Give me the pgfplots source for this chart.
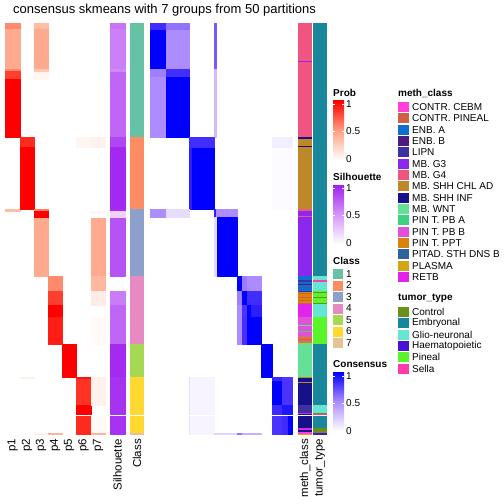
\documentclass[border=0pt]{standalone}
\usepackage{pgfplots}
\pgfplotsset{compat=1.18}
\usepackage{fontspec}
\setmainfont{Liberation Sans}

% class colours
\definecolor{cA}{HTML}{66C2A5}
\definecolor{cB}{HTML}{FC8D62}
\definecolor{cC}{HTML}{8DA0CB}
\definecolor{cD}{HTML}{E78AC3}
\definecolor{cE}{HTML}{A6D854}
\definecolor{cF}{HTML}{FFD92F}
\definecolor{cG}{HTML}{E5C494}
% meth_class colours
\definecolor{mCEBM}{RGB}{255,64,220}
\definecolor{mPIN}{RGB}{210,95,65}
\definecolor{mENBA}{RGB}{15,110,210}
\definecolor{mENBB}{RGB}{80,25,130}
\definecolor{mLIPN}{RGB}{60,50,160}
\definecolor{mGiii}{RGB}{140,40,238}
\definecolor{mGiv}{RGB}{240,85,130}
\definecolor{mCHL}{RGB}{190,135,40}
\definecolor{mINF}{RGB}{22,16,138}
\definecolor{mWNT}{RGB}{100,225,150}
\definecolor{mPBA}{RGB}{60,210,130}
\definecolor{mPBB}{RGB}{225,80,215}
\definecolor{mPPT}{RGB}{220,130,10}
\definecolor{mPITAD}{RGB}{44,100,160}
\definecolor{mPLAS}{RGB}{210,165,20}
\definecolor{mRETB}{RGB}{225,35,235}
% tumor_type colours
\definecolor{tCon}{RGB}{105,145,25}
\definecolor{tEmb}{RGB}{25,135,155}
\definecolor{tGlio}{RGB}{100,230,210}
\definecolor{tHae}{RGB}{70,20,210}
\definecolor{tPin}{RGB}{90,245,40}
\definecolor{tSel}{RGB}{255,60,170}
% colorbar mid colours
\definecolor{probmid}{RGB}{255,160,130}
\definecolor{silmid}{RGB}{213,150,249}
\definecolor{silhi}{RGB}{160,32,240}
\definecolor{conmid}{RGB}{172,140,255}

\pgfplotsset{
  colormap={probcm}{rgb255(0cm)=(255,255,255) rgb255(1cm)=(255,208,190) rgb255(2cm)=(255,160,130) rgb255(3cm)=(255,105,75) rgb255(4cm)=(255,0,0)},
  colormap={silcm}{rgb255(0cm)=(255,255,255) rgb255(1cm)=(236,204,252) rgb255(2cm)=(213,150,249) rgb255(3cm)=(188,95,245) rgb255(4cm)=(160,32,240)},
  colormap={concm}{rgb255(0cm)=(255,255,255) rgb255(1cm)=(215,200,255) rgb255(2cm)=(172,140,255) rgb255(3cm)=(110,75,255) rgb255(4cm)=(0,0,255)},
  canvas/.style={width=504bp, height=504bp, scale only axis,
    xmin=0, xmax=504, ymin=0, ymax=504, y dir=reverse,
    hide axis, clip=false, point meta min=0, point meta max=1},
}

% value block: x0 x1 y0 y1 value
\newcommand\pb[5]{\addplot[patch, patch type=rectangle, shader=flat, draw=none, point meta=explicit] coordinates {(#1,#3) [#5] (#2,#3) [#5] (#2,#4) [#5] (#1,#4) [#5]};}
% categorical block: x0 x1 y0 y1 colour
\newcommand\cb[5]{\addplot[draw=none, fill=#5] coordinates {(#1,#3) (#2,#3) (#2,#4) (#1,#4)} -- cycle;}

\newcommand\lf{\fontsize{10bp}{12bp}\selectfont}
\newcommand\lt{\fontsize{10bp}{12bp}\selectfont\bfseries}
\newcommand\bl{\fontsize{11.5bp}{13bp}\selectfont}

\begin{document}
\begin{tikzpicture}
% ---------------- Prob columns p1..p7 ----------------
\begin{axis}[canvas, colormap name=probcm]
\pb{5}{20}{23}{29}{0.6}
\pb{5}{20}{29}{69}{0.45}
\pb{5}{20}{69}{71}{0.6}
\pb{5}{20}{71}{79}{0.85}
\pb{5}{20}{79}{137}{1}
\pb{5}{20}{209}{211}{0.35}
\pb{20}{34}{137}{147}{0.9}
\pb{20}{34}{147}{209}{1}
\pb{20}{34}{377}{378}{0.08}
\pb{34}{48}{23}{29}{0.35}
\pb{34}{48}{29}{69}{0.45}
\pb{34}{48}{69}{72}{0.3}
\pb{34}{48}{72}{79}{0.05}
\pb{34}{48}{209}{211}{0.65}
\pb{34}{48}{211}{218}{1}
\pb{34}{48}{218}{276}{0.45}
\pb{34}{48}{433}{434.5}{0.08}
\pb{48}{62}{276}{291}{0.6}
\pb{48}{62}{291}{305}{0.85}
\pb{48}{62}{305}{317}{1}
\pb{48}{62}{317}{344}{0.93}
\pb{48}{62}{433}{434.5}{0.4}
\pb{62}{76}{344}{377}{1}
\pb{76}{91}{137}{147}{0.05}
\pb{76}{91}{377}{379}{0.95}
\pb{76}{91}{379}{405}{0.88}
\pb{76}{91}{405}{415}{1}
\pb{76}{91}{415}{434}{0.9}
\pb{91}{105}{137}{147}{0.07}
\pb{91}{105}{211}{213}{0.05}
\pb{91}{105}{218}{276}{0.45}
\pb{91}{105}{276}{291}{0.38}
\pb{91}{105}{291}{305}{0.1}
\pb{91}{105}{317}{344}{0.03}
\pb{91}{105}{377}{405}{0.07}
\pb{91}{105}{415}{433}{0.03}
\pb{91}{105}{433}{434.5}{0.4}
\end{axis}
% ---------------- Silhouette ----------------
\begin{axis}[canvas, colormap name=silcm]
\pb{110}{125}{23}{29}{0.65}
\pb{110}{125}{29}{69}{0.6}
\pb{110}{125}{69}{72}{0.55}
\pb{110}{125}{72}{137}{0.72}
\pb{110}{125}{137}{147}{0.85}
\pb{110}{125}{147}{209}{0.97}
\pb{110}{125}{209}{211}{0.95}
\pb{110}{125}{211}{218}{0.22}
\pb{110}{125}{218}{276}{0.8}
\pb{110}{125}{291}{305}{0.62}
\pb{110}{125}{305}{344}{0.72}
\pb{110}{125}{344}{377}{0.96}
\pb{110}{125}{377}{434}{0.93}
\end{axis}
% ---------------- Consensus matrix ----------------
\begin{axis}[canvas, colormap name=concm]
% class 1 rows
\pb{150}{166}{23}{30}{0.85}
\pb{166}{189}{23}{30}{0.6}
\pb{150}{166}{30}{69}{1}
\pb{166}{189}{30}{69}{0.5}
\pb{150}{166}{69}{77}{0.55}
\pb{166}{189}{69}{77}{0.85}
\pb{150}{166}{77}{137}{0.5}
\pb{166}{189}{77}{137}{1}
\pb{214}{216}{23}{69}{0.7}
\pb{214}{216}{69}{137}{0.3}
% class 2 rows
\pb{189}{214}{137}{148}{0.85}
\pb{189}{192}{148}{209}{0.9}
\pb{192}{214}{148}{209}{1}
\pb{272}{292}{137}{148}{0.08}
\pb{272}{292}{148}{209}{0.02}
% class 3 rows
\pb{150}{166}{209}{217}{0.5}
\pb{166}{189}{209}{217}{0.15}
\pb{214}{216}{209}{217}{0.9}
\pb{216}{237}{209}{217}{0.5}
\pb{214}{217}{217}{276}{0.15}
\pb{217}{237}{217}{276}{1}
% class 4 rows
\pb{237}{242}{276}{291}{1}
\pb{242}{247}{276}{291}{0.56}
\pb{247}{261}{276}{291}{0.5}
\pb{237}{242}{291}{305}{0.55}
\pb{242}{247}{291}{305}{1}
\pb{247}{261}{291}{305}{0.85}
\pb{237}{242}{305}{317}{0.5}
\pb{242}{247}{305}{317}{0.83}
\pb{247}{251}{305}{317}{1}
\pb{251}{261}{305}{317}{0.9}
\pb{237}{242}{317}{344}{0.5}
\pb{242}{247}{317}{344}{0.84}
\pb{247}{261}{317}{344}{1}
% class 5 rows
\pb{261}{272}{344}{377}{1}
% class 6 rows
\pb{189}{190}{377}{434}{0.15}
\pb{190}{214}{377}{434}{0.05}
\pb{272}{282}{377}{381}{0.87}
\pb{282}{292}{377}{381}{0.82}
\pb{272}{282}{381}{405}{1}
\pb{282}{292}{381}{405}{0.83}
\pb{272}{282}{405}{415}{0.86}
\pb{282}{292}{405}{415}{0.93}
\pb{272}{282}{415}{434}{0.83}
\pb{282}{288}{415}{434}{0.86}
\pb{288}{292}{415}{434}{1}
\pb{214}{237}{433}{434.5}{0.2}
\pb{237}{242}{433}{434.5}{0.6}
\pb{242}{261}{433}{434.5}{0.35}
\end{axis}
% ---------------- Annotations, legends, text ----------------
\begin{axis}[canvas]
\path (axis cs:0,0) rectangle (axis cs:504,504);
% Class column
\cb{130}{144}{23}{137}{cA}
\cb{130}{144}{137}{209}{cB}
\cb{130}{144}{209}{276}{cC}
\cb{130}{144}{276}{344}{cD}
\cb{130}{144}{344}{377}{cE}
\cb{130}{144}{377}{433}{cF}
\cb{130}{144}{433}{434.5}{cG}
% meth_class column
\cb{298}{312}{23}{61}{mGiv}
\cb{298}{312}{61}{62}{mGiii}
\cb{298}{312}{62}{137}{mGiv}
\cb{298}{312}{137}{139}{mINF}
\cb{298}{312}{139}{146}{mCHL}
\cb{298}{312}{146}{147}{mINF}
\cb{298}{312}{147}{209}{mCHL}
\cb{298}{312}{209}{211}{mGiv}
\cb{298}{312}{211}{216}{mGiii}
\cb{298}{312}{216}{217}{mGiv}
\cb{298}{312}{217}{276}{mGiii}
\cb{298}{312}{276}{280}{mENBA}
\cb{298}{312}{280}{282}{mLIPN}
\cb{298}{312}{282}{284}{mENBA}
\cb{298}{312}{284}{285}{mENBB}
\cb{298}{312}{285}{287}{mENBA}
\cb{298}{312}{287}{288}{mPITAD}
\cb{298}{312}{288}{291}{mENBA}
\cb{298}{312}{291}{292}{mLIPN}
\cb{298}{312}{292}{304}{mPPT}
\cb{298}{312}{293}{294}{mPIN}
\cb{298}{312}{297}{298}{mPIN}
\cb{298}{312}{300}{301}{mPIN}
\cb{298}{312}{303}{304}{mPIN}
\cb{298}{312}{304}{317}{mRETB}
\cb{298}{312}{317}{325}{mPBB}
\cb{298}{312}{325}{326}{mWNT}
\cb{298}{312}{326}{331}{mPBB}
\cb{298}{312}{331}{332}{mPBA}
\cb{298}{312}{332}{336}{mPBB}
\cb{298}{312}{336}{337}{mPPT}
\cb{298}{312}{337}{338}{mPBB}
\cb{298}{312}{338}{339}{mPPT}
\cb{298}{312}{339}{340}{mPIN}
\cb{298}{312}{340}{341}{mPBB}
\cb{298}{312}{341}{343}{mPPT}
\cb{298}{312}{343}{377}{mWNT}
\cb{298}{312}{377}{378}{mCHL}
\cb{298}{312}{378}{382}{mINF}
\cb{298}{312}{382}{383}{mCHL}
\cb{298}{312}{383}{405}{mINF}
\cb{298}{312}{405}{413}{mLIPN}
\cb{298}{312}{413}{414}{mRETB}
\cb{298}{312}{414}{415}{mINF}
\cb{298}{312}{415}{428}{mINF}
\cb{298}{312}{428}{430}{mRETB}
\cb{298}{312}{430}{432}{mINF}
\cb{298}{312}{432}{434}{mCEBM}
\cb{298}{312}{434}{434.8}{mPLAS}
% tumor_type column
\cb{313}{327}{23}{276}{tEmb}
\cb{313}{327}{276}{280}{tGlio}
\cb{313}{327}{280}{282}{tSel}
\cb{313}{327}{282}{291}{tGlio}
\cb{313}{327}{291}{304}{tPin}
\cb{313}{327}{292}{293}{tCon}
\cb{313}{327}{297}{298}{tCon}
\cb{313}{327}{302.5}{303.5}{tCon}
\cb{313}{327}{304}{317}{tGlio}
\cb{313}{327}{317}{344}{tPin}
\cb{313}{327}{344}{405}{tEmb}
\cb{313}{327}{405}{413}{tGlio}
\cb{313}{327}{413}{414}{tCon}
\cb{313}{327}{414}{415}{tSel}
\cb{313}{327}{415}{428}{tEmb}
\cb{313}{327}{428}{433}{tCon}
\cb{313}{327}{433}{434.8}{tHae}
% white separating line
\cb{0}{330}{414.6}{415.6}{white}

% title
\node[anchor=base west, inner sep=0] at (axis cs:13,13.5) {\fontsize{13bp}{15bp}\selectfont consensus skmeans with 7 groups from 50 partitions};

% bottom labels
\node[rotate=90, anchor=east, inner sep=0] at (axis cs:12.5,439) {\bl p1};
\node[rotate=90, anchor=east, inner sep=0] at (axis cs:27,439) {\bl p2};
\node[rotate=90, anchor=east, inner sep=0] at (axis cs:41,439) {\bl p3};
\node[rotate=90, anchor=east, inner sep=0] at (axis cs:55,439) {\bl p4};
\node[rotate=90, anchor=east, inner sep=0] at (axis cs:69,439) {\bl p5};
\node[rotate=90, anchor=east, inner sep=0] at (axis cs:83.5,439) {\bl p6};
\node[rotate=90, anchor=east, inner sep=0] at (axis cs:98,439) {\bl p7};
\node[rotate=90, anchor=east, inner sep=0] at (axis cs:117.5,439) {\bl Silhouette};
\node[rotate=90, anchor=east, inner sep=0] at (axis cs:137,439) {\bl Class};
\node[rotate=90, anchor=east, inner sep=0] at (axis cs:305,439) {\bl meth\_class};
\node[rotate=90, anchor=east, inner sep=0] at (axis cs:320,439) {\bl tumor\_type};

% ---- Prob legend
\node[anchor=west, inner sep=0] at (axis cs:333,93) {\lt Prob};
\shade[top color=red, bottom color=white, middle color=probmid] (axis cs:333,101) rectangle (axis cs:344,160);
\node[anchor=west, inner sep=0] at (axis cs:346,104) {\lf 1};
\node[anchor=west, inner sep=0] at (axis cs:346,131.5) {\lf 0.5};
\node[anchor=west, inner sep=0] at (axis cs:346,159) {\lf 0};
\draw[white, line width=0.6bp] (axis cs:333,104) -- (axis cs:335,104) (axis cs:342,104) -- (axis cs:344,104) (axis cs:333,131.5) -- (axis cs:335,131.5) (axis cs:342,131.5) -- (axis cs:344,131.5);
% ---- Silhouette legend
\node[anchor=west, inner sep=0] at (axis cs:333,177) {\lt Silhouette};
\shade[top color=silhi, bottom color=white, middle color=silmid] (axis cs:333,185) rectangle (axis cs:344,244);
\node[anchor=west, inner sep=0] at (axis cs:346,188) {\lf 1};
\node[anchor=west, inner sep=0] at (axis cs:346,215.5) {\lf 0.5};
\node[anchor=west, inner sep=0] at (axis cs:346,243) {\lf 0};
\draw[white, line width=0.6bp] (axis cs:333,188) -- (axis cs:335,188) (axis cs:342,188) -- (axis cs:344,188) (axis cs:333,215.5) -- (axis cs:335,215.5) (axis cs:342,215.5) -- (axis cs:344,215.5);
% ---- Class legend
\node[anchor=west, inner sep=0] at (axis cs:333,261) {\lt Class};
\cb{333}{343}{269}{279}{cA}
\cb{333}{343}{280.5}{290.5}{cB}
\cb{333}{343}{292}{302}{cC}
\cb{333}{343}{303.5}{313.5}{cD}
\cb{333}{343}{315}{325}{cE}
\cb{333}{343}{326.5}{336.5}{cF}
\cb{333}{343}{338}{348}{cG}
\node[anchor=west, inner sep=0] at (axis cs:346,274) {\lf 1};
\node[anchor=west, inner sep=0] at (axis cs:346,285.5) {\lf 2};
\node[anchor=west, inner sep=0] at (axis cs:346,297) {\lf 3};
\node[anchor=west, inner sep=0] at (axis cs:346,308.5) {\lf 4};
\node[anchor=west, inner sep=0] at (axis cs:346,320) {\lf 5};
\node[anchor=west, inner sep=0] at (axis cs:346,331.5) {\lf 6};
\node[anchor=west, inner sep=0] at (axis cs:346,343) {\lf 7};
% ---- Consensus legend
\node[anchor=west, inner sep=0] at (axis cs:333,364) {\lt Consensus};
\shade[top color=blue, bottom color=white, middle color=conmid] (axis cs:333,372) rectangle (axis cs:344,431);
\node[anchor=west, inner sep=0] at (axis cs:346,376) {\lf 1};
\node[anchor=west, inner sep=0] at (axis cs:346,403.5) {\lf 0.5};
\node[anchor=west, inner sep=0] at (axis cs:346,431) {\lf 0};
\draw[white, line width=0.6bp] (axis cs:333,376) -- (axis cs:335,376) (axis cs:342,376) -- (axis cs:344,376) (axis cs:333,403.5) -- (axis cs:335,403.5) (axis cs:342,403.5) -- (axis cs:344,403.5);
% ---- meth_class legend
\node[anchor=west, inner sep=0] at (axis cs:398,93) {\lt meth\_class};
\cb{398}{409}{102}{112}{mCEBM}
\cb{398}{409}{113.3}{123.3}{mPIN}
\cb{398}{409}{124.7}{134.7}{mENBA}
\cb{398}{409}{136}{146}{mENBB}
\cb{398}{409}{147.3}{157.3}{mLIPN}
\cb{398}{409}{158.7}{168.7}{mGiii}
\cb{398}{409}{170}{180}{mGiv}
\cb{398}{409}{181.3}{191.3}{mCHL}
\cb{398}{409}{192.7}{202.7}{mINF}
\cb{398}{409}{204}{214}{mWNT}
\cb{398}{409}{215.3}{225.3}{mPBA}
\cb{398}{409}{226.7}{236.7}{mPBB}
\cb{398}{409}{238}{248}{mPPT}
\cb{398}{409}{249.3}{259.3}{mPITAD}
\cb{398}{409}{260.7}{270.7}{mPLAS}
\cb{398}{409}{272}{282}{mRETB}
\node[anchor=west, inner sep=0] at (axis cs:412,107) {\lf CONTR. CEBM};
\node[anchor=west, inner sep=0] at (axis cs:412,118.3) {\lf CONTR. PINEAL};
\node[anchor=west, inner sep=0] at (axis cs:412,129.7) {\lf ENB. A};
\node[anchor=west, inner sep=0] at (axis cs:412,141) {\lf ENB. B};
\node[anchor=west, inner sep=0] at (axis cs:412,152.3) {\lf LIPN};
\node[anchor=west, inner sep=0] at (axis cs:412,163.7) {\lf MB. G3};
\node[anchor=west, inner sep=0] at (axis cs:412,175) {\lf MB. G4};
\node[anchor=west, inner sep=0] at (axis cs:412,186.3) {\lf MB. SHH CHL AD};
\node[anchor=west, inner sep=0] at (axis cs:412,197.7) {\lf MB. SHH INF};
\node[anchor=west, inner sep=0] at (axis cs:412,209) {\lf MB. WNT};
\node[anchor=west, inner sep=0] at (axis cs:412,220.3) {\lf PIN T. PB A};
\node[anchor=west, inner sep=0] at (axis cs:412,231.7) {\lf PIN T. PB B};
\node[anchor=west, inner sep=0] at (axis cs:412,243) {\lf PIN T. PPT};
\node[anchor=west, inner sep=0] at (axis cs:412,254.3) {\lf PITAD. STH DNS B};
\node[anchor=west, inner sep=0] at (axis cs:412,265.7) {\lf PLASMA};
\node[anchor=west, inner sep=0] at (axis cs:412,277) {\lf RETB};
% ---- tumor_type legend
\node[anchor=west, inner sep=0] at (axis cs:398,298) {\lt tumor\_type};
\cb{398}{409}{307}{317}{tCon}
\cb{398}{409}{318.3}{328.3}{tEmb}
\cb{398}{409}{329.7}{339.7}{tGlio}
\cb{398}{409}{341}{351}{tHae}
\cb{398}{409}{352.3}{362.3}{tPin}
\cb{398}{409}{363.7}{373.7}{tSel}
\node[anchor=west, inner sep=0] at (axis cs:412,312) {\lf Control};
\node[anchor=west, inner sep=0] at (axis cs:412,323.3) {\lf Embryonal};
\node[anchor=west, inner sep=0] at (axis cs:412,334.7) {\lf Glio-neuronal};
\node[anchor=west, inner sep=0] at (axis cs:412,346) {\lf Haematopoietic};
\node[anchor=west, inner sep=0] at (axis cs:412,357.3) {\lf Pineal};
\node[anchor=west, inner sep=0] at (axis cs:412,368.7) {\lf Sella};
\end{axis}
\end{tikzpicture}
\end{document}
